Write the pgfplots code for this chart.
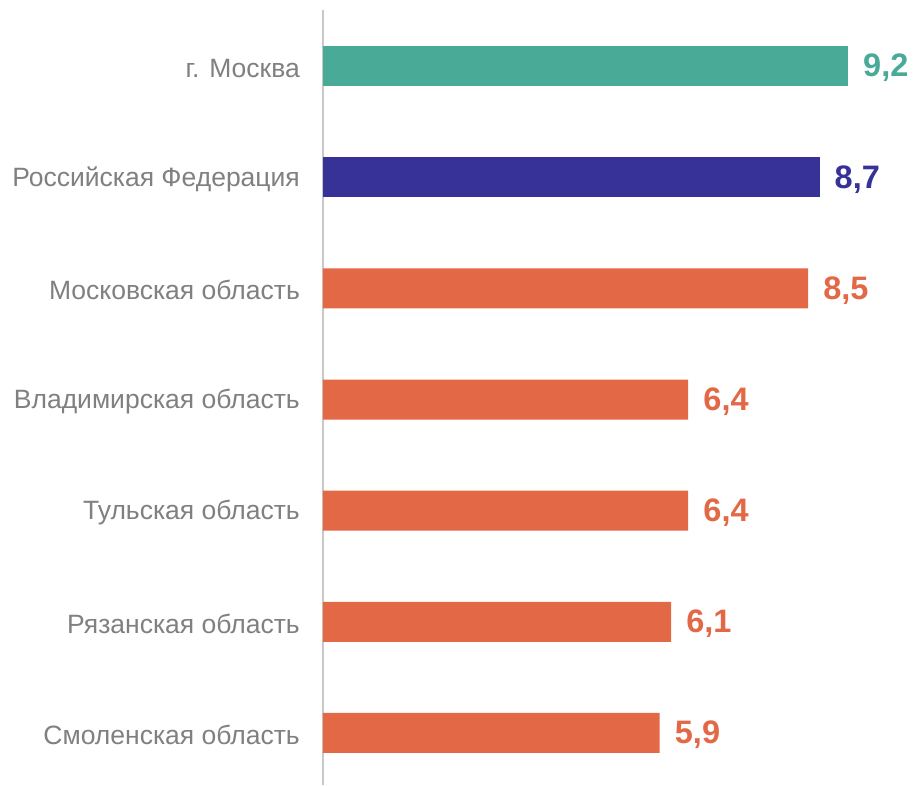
\documentclass[border=0pt]{standalone}
\usepackage{pgfplots}
\pgfplotsset{compat=1.18}
\usepackage{fontspec}
\setmainfont{Liberation Sans}
\definecolor{cteal}{HTML}{49AA98}
\definecolor{cnavy}{HTML}{363297}
\definecolor{corange}{HTML}{E36846}
\definecolor{lblgray}{HTML}{808080}
\definecolor{axgray}{HTML}{C8C8C8}
\begin{document}
\begin{tikzpicture}
\begin{axis}[
  scale only axis,
  width=591pt, height=775pt,
  xmin=0, xmax=10.356,
  ymin=-0.504, ymax=6.468,
  y dir=reverse,
  xbar, bar width=40pt, bar shift=0pt,
  hide x axis,
  axis y line=left,
  y axis line style={draw=axgray, line width=2pt, -},
  ytick={0,1,2,3,4,5,6},
  yticklabels={г. Москва, Российская Федерация, Московская область, Владимирская область, Тульская область, Рязанская область, Смоленская область},
  major tick length=0pt,
  yticklabel style={font=\fontsize{26.5}{30}\selectfont, text=lblgray, inner sep=0pt, xshift=-23pt, yshift=-2pt},
  nodes near coords,
  point meta=explicit symbolic,
  nodes near coords style={font=\bfseries\fontsize{32.5}{36}\selectfont, anchor=west, inner sep=0pt, xshift=15pt, yshift=-2pt},
  clip=false,
]
\addplot[draw=none, fill=cteal, nodes near coords style={text=cteal}] coordinates {(9.2,0) [9,2]};
\addplot[draw=none, fill=cnavy, nodes near coords style={text=cnavy}] coordinates {(8.7,1) [8,7]};
\addplot[draw=none, fill=corange, nodes near coords style={text=corange}] coordinates {(8.5,2) [8,5] (6.4,3) [6,4] (6.4,4) [6,4] (6.1,5) [6,1] (5.9,6) [5,9]};
\end{axis}
\pgfresetboundingbox
\path ([xshift=-323pt]current axis.south west) rectangle ([yshift=10pt]current axis.north east);
\end{tikzpicture}
\end{document}
